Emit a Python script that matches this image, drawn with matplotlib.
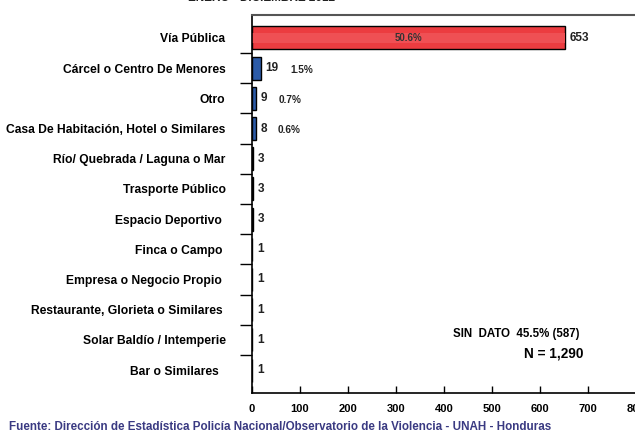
import matplotlib
matplotlib.use("Agg")
import matplotlib.pyplot as plt
import numpy as np

plt.rcParams["font.family"] = ["Liberation Sans", "DejaVu Sans"]
plt.rcParams["font.weight"] = "bold"

categories = ["Vía Pública", "Cárcel o Centro De Menores", "Otro",
              "Casa De Habitación, Hotel o Similares", "Río/ Quebrada / Laguna o Mar",
              "Trasporte Público", "Espacio Deportivo ", "Finca o Campo ",
              "Empresa o Negocio Propio ", "Restaurante, Glorieta o Similares ",
              "Solar Baldío / Intemperie", "Bar o Similares  "]
counts = [653, 19, 9, 8, 3, 3, 3, 1, 1, 1, 1, 1]
pct_labels = ["50.6%", "1.5%", "0.7%", "0.6%", "", "", "", "", "", "", "", ""]
xticks = [0, 100, 200, 300, 400, 500, 600, 700, 800]

fig = plt.figure(figsize=(6.35, 4.33), dpi=100)
ax = fig.add_axes([252 / 635, 1 - 393 / 433, 384 / 635, 378 / 433])

y = np.arange(len(categories))
colors = ["#ec3c40"] + ["#2c5ba8"] * (len(categories) - 1)
ax.barh(y, counts, height=0.76, color=colors, edgecolor="black", linewidth=1.0)
# softer band through the middle of the red bar (gradient look)
ax.barh(y[:1], counts[:1], height=0.36, color="#ef5054", linewidth=0)

for i, (c, p) in enumerate(zip(counts, pct_labels)):
    ax.text(c + 9, i, str(c), va="center", ha="left", fontsize=8.5, color="#222222")
    if i == 0:
        ax.text(c / 2, i, p, va="center", ha="center", fontsize=7, color="#333333")
    elif p:
        off = 60 if c > 10 else 46
        ax.text(c + off, i + 0.05, p, va="center", ha="left",
                fontsize=7.2, color="#222222")

ax.set_xlim(0, 800)
ax.set_ylim(len(categories) - 0.24, -0.76)
ax.set_yticks(y)
ax.set_yticklabels(categories, fontsize=8.7)
ax.tick_params(axis="y", length=0, pad=19)
ax.set_yticks(np.arange(len(categories) - 1) + 0.5, minor=True)
ax.tick_params(axis="y", which="minor", length=9, width=1.0, direction="out")
ax.set_xticks(xticks)
ax.set_xticklabels([str(t) for t in xticks], fontsize=8)
ax.tick_params(axis="x", direction="in", length=5, width=1.0, pad=8)

ax.spines["right"].set_visible(False)
ax.spines["top"].set_color("#555555")
ax.spines["top"].set_linewidth(1.5)
ax.spines["left"].set_linewidth(1.2)
ax.spines["bottom"].set_linewidth(1.2)

ax.text(550, 9.81, "SIN  DATO  45.5% (587)", ha="center", va="center", fontsize=8.3)
ax.text(629, 10.44, "N = 1,290", ha="center", va="center", fontsize=9.8)

fig.text(262 / 635, 1 + 2 / 433, "ENERO - DICIEMBRE 2012", ha="center", va="center",
         fontsize=8.5, color="#222222")
fig.text(9 / 635, 1 - 427 / 433, "Fuente: Dirección de Estadística Policía Nacional/Observatorio "
         "de la Violencia - UNAH - Honduras", ha="left", va="center", fontsize=8.4,
         color="#3a3a82")

fig.savefig("out.png", dpi=100)
